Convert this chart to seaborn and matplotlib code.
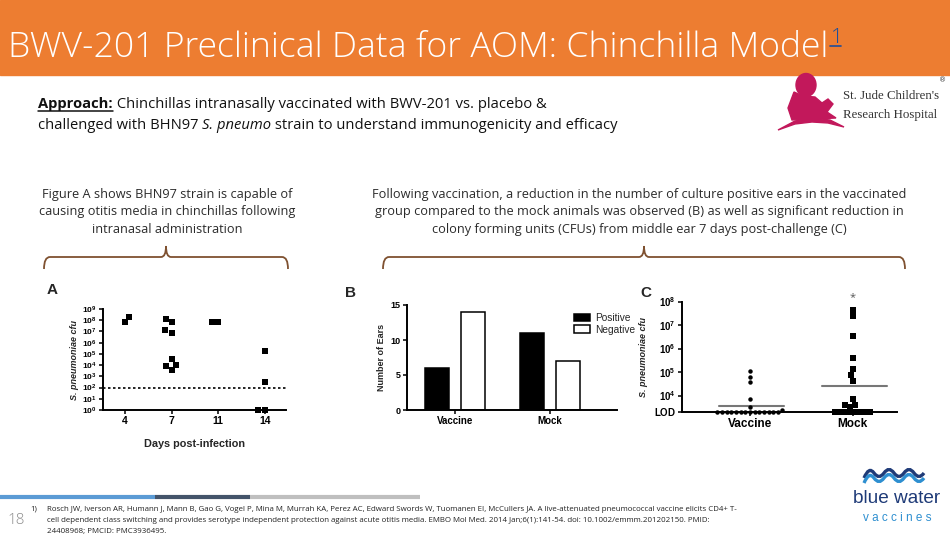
import numpy as np
import pandas as pd
import matplotlib
matplotlib.use('Agg')
import matplotlib.pyplot as plt
import seaborn as sns
from matplotlib.path import Path
from matplotlib.patches import PathPatch, Rectangle, Ellipse, Polygon

# ---- panel A: cfu per ear by day post-infection (0 cfu drawn at 10^0)
days = ['4', '7', '11', '14']
cfu_day4 = [7.2e7, 2.0e8]
cfu_day7 = [1.3e8, 6.3e7, 8.0e6, 1.3e7, 3.2e4, 1.0e4, 4.0e3, 8.0e3]
cfu_day11 = [6.3e7, 7.2e7]
cfu_day14 = [2.0e5, 3.0e2, 1.0, 1.0]
detect_limit_a = 1e2

# ---- panel B: culture positive / negative ears
groups = ['Vaccine', 'Mock']
ears_positive = [6, 11]
ears_negative = [14, 7]

# ---- panel C: cfu from middle ear 7 days post-challenge
lod_c = 2.0e3
vaccine_cfu = [1.1e5, 6.3e4, 4.0e4, 7.4e3, 3.2e3, 2.5e3] + [lod_c] * 14
mock_cfu = [4.6e7, 2.5e7, 3.5e6, 3.9e5, 1.4e5, 7.4e4, 4.4e4,
            7.2e3, 4.1e3, 3.8e3, 3.2e3] + [lod_c] * 7

title = 'BWV-201 Preclinical Data for AOM: Chinchilla Model'
caption_a = ['Figure A shows BHN97 strain is capable of',
             'causing otitis media in chinchillas following',
             'intranasal administration']
caption_bc = ['Following vaccination, a reduction in the number of culture positive ears in the vaccinated',
              'group compared to the mock animals was observed (B) as well as significant reduction in',
              'colony forming units (CFUs) from middle ear 7 days post-challenge (C)']
footnote = ['Rosch JW, Iverson AR, Humann J, Mann B, Gao G, Vogel P, Mina M, Murrah KA, Perez AC, Edward Swords W, '
            'Tuomanen EI, McCullers JA. A live-attenuated pneumococcal vaccine elicits CD4+ T-',
            'cell dependent class switching and provides serotype independent protection against acute otitis media. '
            'EMBO Mol Med. 2014 Jan;6(1):141-54. doi: 10.1002/emmm.201202150. PMID:',
            '24408968; PMCID: PMC3936495.']

sns.set_style('ticks')
plt.rcParams['font.family'] = ['Open Sans', 'DejaVu Sans']
plt.rcParams['mathtext.fontset'] = 'custom'
plt.rcParams['mathtext.rm'] = 'Liberation Sans'
plt.rcParams['mathtext.bf'] = 'Liberation Sans:bold'

W, H = 950, 534
fig = plt.figure(figsize=(9.5, 5.34), dpi=100)
renderer = fig.canvas.get_renderer()

bg = fig.add_axes([0, 0, 1, 1], zorder=0)
bg.set_xlim(0, W)
bg.set_ylim(H, 0)
bg.axis('off')


def px_axes(left, top, right, bottom):
    return fig.add_axes([left / W, 1 - bottom / H, (right - left) / W, (bottom - top) / H], zorder=2)


def text_width(s, **kw):
    t = bg.text(0, 0, s + '|', **kw)
    t2 = bg.text(0, 0, '|', **kw)
    w = t.get_window_extent(renderer).width - t2.get_window_extent(renderer).width
    t.remove()
    t2.remove()
    return w


def fit_size(s, target, **kw):
    return 10 * target / text_width(s, fontsize=10, **kw)


def draw_runs(x, y, runs, size, **common):
    for s, style in runs:
        kw = dict(common)
        kw.update({k: v for k, v in style.items() if k != 'underline'})
        bg.text(x, y, s, fontsize=size, va='baseline', ha='left', **kw)
        w = text_width(s, fontsize=size, **kw)
        if style.get('underline'):
            bg.plot([x, x + w], [y + 2.5, y + 2.5], color=kw.get('color', 'k'), lw=1.1)
        x += w


# ---- header
bg.add_patch(Rectangle((0, 0), W, 75, color='#ED7D31', zorder=0))
tsize = fit_size(title, 820, fontweight='light')
bg.text(8, 57, title, fontsize=tsize, color='white', fontweight='light', va='baseline')
bg.text(831, 43, '1', fontsize=tsize * 0.6, color='#1F4E9A', fontweight='light', va='baseline')
bg.plot([830, 841], [46, 46], color='#1F4E9A', lw=1.2)

# ---- approach text
line2 = [('challenged with BHN97 ', {}), ('S. pneumo', {'fontstyle': 'italic'}),
         (' strain to understand immunogenicity and efficacy', {})]
asize = fit_size(''.join(r[0] for r in line2), 583)
draw_runs(38, 108, [('Approach:', {'fontweight': 'bold', 'underline': True}),
                    (' Chinchillas intranasally vaccinated with BWV-201 vs. placebo &', {})],
          asize, color='#111111')
draw_runs(38, 129, line2, asize, color='#111111')

# ---- captions
csize = fit_size(caption_bc[0], 533)
for i, s in enumerate(caption_a):
    bg.text(167, 198 + i * 17.5, s, fontsize=csize, color='#2B2B2B', ha='center', va='baseline')
for i, s in enumerate(caption_bc):
    bg.text(639, 198 + i * 17.5, s, fontsize=csize, color='#2B2B2B', ha='center', va='baseline')


def brace(x0, x1, ytop, ybot, tip, color='#7F5130'):
    xm = (x0 + x1) / 2
    verts = [(x0, ybot), (x0, ytop), (x0 + 6, ytop), (xm - 5, ytop), (xm, ytop), (xm, tip),
             (xm, ytop), (xm + 5, ytop), (x1 - 6, ytop), (x1, ytop), (x1, ybot)]
    codes = [Path.MOVETO, Path.CURVE3, Path.CURVE3, Path.LINETO, Path.CURVE3, Path.CURVE3,
             Path.CURVE3, Path.CURVE3, Path.LINETO, Path.CURVE3, Path.CURVE3]
    bg.add_patch(PathPatch(Path(verts, codes), fill=False, edgecolor=color, lw=1.3))


brace(44, 288, 257, 269, 246)
brace(383, 905, 257, 269, 246)

# ---- St. Jude logo (rough)
red = '#C2185B'
bg.add_patch(Ellipse((806, 85), 20, 23, color=red))
bg.add_patch(Polygon([(794, 92), (803, 96), (815, 97), (822, 103), (828, 99), (833, 104),
                      (827, 112), (836, 118), (792, 120), (788, 108)], closed=True, color=red))
bg.add_patch(Polygon([(778, 130), (795, 121), (812, 118), (830, 120), (844, 127),
                      (828, 123), (812, 122), (795, 124)], closed=True, color=red))
jsize = fit_size("St. Jude Children's", 97, family='Liberation Serif')
bg.text(843, 99, "St. Jude Children's", fontsize=jsize, family='Liberation Serif', color='#333333', va='baseline')
bg.text(843, 118, 'Research Hospital', fontsize=jsize, family='Liberation Serif', color='#333333', va='baseline')
bg.text(939, 82, '\u00ae', fontsize=5, family='DejaVu Sans', color='#333333', va='baseline')

# ---- panel A
axA = px_axes(103, 309, 286, 410)
dfA = pd.DataFrame({'day': ['4'] * len(cfu_day4) + ['7'] * len(cfu_day7) + ['11'] * len(cfu_day11)
                    + ['14'] * len(cfu_day14),
                    'cfu': cfu_day4 + cfu_day7 + cfu_day11 + cfu_day14})
axA.set_yscale('log')
sns.swarmplot(data=dfA, x='day', y='cfu', order=days, marker='s', size=4.6, color='black',
              linewidth=0, clip_on=False, ax=axA)
axA.axhline(detect_limit_a, color='black', ls=(0, (1.5, 1.5)), lw=1.2)
axA.set_ylim(1, 1e9)
axA.set_xlim(-0.47, 3.45)
axA.minorticks_off()
axA.set_yticks([10.0 ** k for k in range(10)])
axA.set_yticklabels([r'$\mathbf{10^{%d}}$' % k for k in range(10)])
axA.set_xlabel('Days post-infection', fontsize=7.8, fontweight='bold', family='Liberation Sans', labelpad=9)
axA.set_ylabel('S. pneumoniae cfu', fontsize=6.5, fontweight='bold', fontstyle='italic',
               family='Liberation Sans', labelpad=2)
axA.tick_params(labelsize=6, length=3, width=1.1, pad=1.5, colors='black')
for lab in axA.get_xticklabels():
    lab.set_fontweight('bold')
    lab.set_family('Liberation Sans')
    lab.set_fontsize(7.5)

# ---- panel B
axB = px_axes(407, 305, 617, 410)
dfB = pd.DataFrame({'group': groups * 2,
                    'status': ['Positive'] * len(groups) + ['Negative'] * len(groups),
                    'ears': ears_positive + ears_negative})
sns.barplot(data=dfB, x='group', y='ears', hue='status', order=groups,
            palette={'Positive': 'black', 'Negative': 'white'}, edgecolor='black',
            linewidth=1.1, width=0.76, gap=0.33, ax=axB)
axB.set_xlim(-0.51, 1.71)
axB.set_ylim(0, 15)
axB.set_yticks([0, 5, 10, 15])
axB.set_xlabel('')
axB.set_ylabel('Number of Ears', fontsize=6.5, fontweight='bold', family='Liberation Sans', labelpad=3)
axB.tick_params(labelsize=6.5, length=3, width=1.1, pad=1.5, colors='black')
for lab in axB.get_xticklabels() + axB.get_yticklabels():
    lab.set_fontweight('bold')
    lab.set_family('Liberation Sans')
for lab in axB.get_xticklabels():
    lab.set_fontsize(7)
h, l = axB.get_legend_handles_labels()
axB.legend(h, l, loc='upper left', bbox_to_anchor=(565 / W, 1 - 304 / H), bbox_transform=fig.transFigure,
           frameon=False, handlelength=1.6, handleheight=0.75, handletextpad=0.5, labelspacing=0.15,
           prop={'family': 'Liberation Sans', 'size': 7.3})

# ---- panel C
axC = px_axes(682, 302, 897, 412)
axC.set_yscale('log')
sns.swarmplot(x=['Vaccine'] * len(vaccine_cfu), y=vaccine_cfu, order=groups, marker='o', size=3.2,
              color='black', linewidth=0, clip_on=False, ax=axC)
sns.swarmplot(x=['Mock'] * len(mock_cfu), y=mock_cfu, order=groups, marker='s', size=4.0,
              color='black', linewidth=0, clip_on=False, ax=axC)
for i, vals in enumerate([vaccine_cfu, mock_cfu]):
    gm = 10 ** np.mean(np.log10(vals))
    axC.plot([i - 0.3, i + 0.33], [gm, gm], color='#777777', lw=1.5, zorder=1)
axC.text(1, 10 ** 8.2, '*', ha='center', va='center', fontsize=8, color='#555555', clip_on=False)
axC.set_xlim(-0.66, 1.43)
axC.set_ylim(lod_c, 1e8)
axC.minorticks_off()
axC.set_yticks([lod_c] + [10.0 ** k for k in range(4, 9)])
axC.set_yticklabels(['$\\mathbf{LOD}$'] + [r'$\mathbf{10^{%d}}$' % k for k in range(4, 9)])
axC.set_ylabel('S. pneumoniae cfu', fontsize=6.5, fontweight='bold', fontstyle='italic',
               family='Liberation Sans', labelpad=4)
axC.tick_params(labelsize=7, length=3, width=1.1, pad=1.5, colors='black')
for lab in axC.get_xticklabels():
    lab.set_fontweight('bold')
    lab.set_family('Liberation Sans')
    lab.set_fontsize(8.5)

for ax in (axA, axB, axC):
    sns.despine(ax=ax)
    for sp in ('left', 'bottom'):
        ax.spines[sp].set_linewidth(1.4)
        ax.spines[sp].set_color('black')

for ax, lab, x, y in ((axA, 'A', 52, 290), (axB, 'B', 351, 293), (axC, 'C', 646, 293)):
    bg.text(x, y, lab, fontsize=11, fontweight='bold', family='Liberation Sans', ha='center', va='center')

# ---- footer
bg.plot([0, 155], [497, 497], color='#5B9BD5', lw=3, solid_capstyle='butt')
bg.plot([155, 250], [497, 497], color='#44546A', lw=3, solid_capstyle='butt')
bg.plot([250, 420], [497, 497], color='#BFBFBF', lw=3, solid_capstyle='butt')
fsize = fit_size(footnote[0], 690)
bg.text(30, 511, '1)', fontsize=fsize, color='#222222', va='baseline')
for i, s in enumerate(footnote):
    bg.text(47, 511 + i * 11, s, fontsize=fsize, color='#222222', va='baseline')
bg.text(7, 524, '18', fontsize=11, color='#8C8C8C', fontweight='light', va='baseline')

# ---- blue water vaccines logo (rough)
navy = '#1F3B78'
lblue = '#2E8FD0'
for dy, col in ((0, navy), (5, lblue)):
    verts = [(864, 478 + dy)]
    codes = [Path.MOVETO]
    for k in range(3):
        x0 = 864 + k * 20
        verts += [(x0 + 5, 466 + dy), (x0 + 10, 473 + dy), (x0 + 15, 480 + dy), (x0 + 20, 473 + dy)]
        codes += [Path.CURVE3, Path.CURVE3, Path.CURVE3, Path.CURVE3]
    bg.add_patch(PathPatch(Path(verts, codes), fill=False, edgecolor=col, lw=2.4))
bsize = fit_size('blue water', 88, family='Liberation Sans')
bg.text(853, 503, 'blue water', fontsize=bsize, family='Liberation Sans', color=navy, va='baseline')
bg.text(897, 521, 'v a c c i n e s', fontsize=8.5, family='Liberation Sans', color=lblue, va='baseline',
        ha='center')

fig.savefig('out.png', dpi=100)
